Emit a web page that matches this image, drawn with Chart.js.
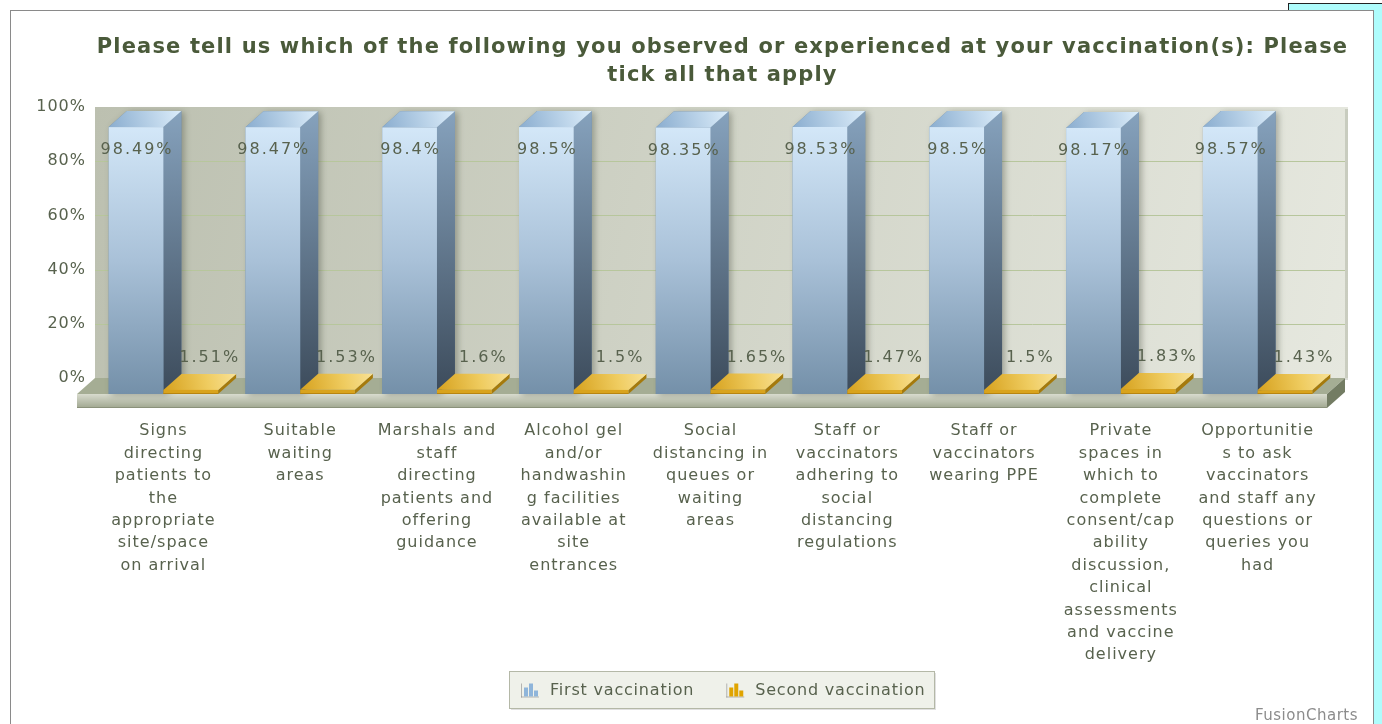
<!DOCTYPE html>
<html><head><meta charset="utf-8">
<script src="https://cdn.jsdelivr.net/npm/chart.js@4.4.1/dist/chart.umd.min.js"></script>
<style>
html,body{margin:0;padding:0;background:#fff;}
#wrap{position:relative;width:1382px;height:724px;overflow:hidden;}
#cyan{position:absolute;left:1288px;top:3px;width:200px;height:800px;background:#aefcfc;border-left:1px solid #222;border-top:1px solid #222;}
#frame{position:absolute;left:10px;top:10px;width:1362px;height:800px;border:1px solid #8a8a8a;background:#fff;}
canvas{position:absolute;left:0;top:0;}
</style></head>
<body><div id="wrap"><div id="cyan"></div><div id="frame"></div><canvas id="c" width="1382" height="724"></canvas></div>
<script>
const titleLines = ["Please tell us which of the following you observed or experienced at your vaccination(s): Please", "tick all that apply"];
const categories = [
  ["Signs","directing","patients to","the","appropriate","site/space","on arrival"],
  ["Suitable","waiting","areas"],
  ["Marshals and","staff","directing","patients and","offering","guidance"],
  ["Alcohol gel","and/or","handwashin","g facilities","available at","site","entrances"],
  ["Social","distancing in","queues or","waiting","areas"],
  ["Staff or","vaccinators","adhering to","social","distancing","regulations"],
  ["Staff or","vaccinators","wearing PPE"],
  ["Private","spaces in","which to","complete","consent/cap","ability","discussion,","clinical","assessments","and vaccine","delivery"],
  ["Opportunitie","s to ask","vaccinators","and staff any","questions or","queries you","had"]
];
const firstVaccination = [98.49, 98.47, 98.4, 98.5, 98.35, 98.53, 98.5, 98.17, 98.57];
const secondVaccination = [1.51, 1.53, 1.6, 1.5, 1.65, 1.47, 1.5, 1.83, 1.43];
const seriesNames = ["First vaccination", "Second vaccination"];
const yTicks = [0, 20, 40, 60, 80, 100];

const FONT = '"DejaVu Sans", Verdana, sans-serif';
const DX = 18, DY = 16, SLAB = 14;

function lin(ctx, x0, y0, x1, y1, stops) {
  const g = ctx.createLinearGradient(x0, y0, x1, y1);
  stops.forEach(s => g.addColorStop(s[0], s[1]));
  return g;
}
function poly(ctx, pts, fill) {
  ctx.beginPath();
  ctx.moveTo(pts[0][0], pts[0][1]);
  for (let i = 1; i < pts.length; i++) ctx.lineTo(pts[i][0], pts[i][1]);
  ctx.closePath();
  ctx.fillStyle = fill;
  ctx.fill();
}
function drawBox(ctx, bL, bR, bT, bB, d) {
  const fL = bL - DX, fR = bR - DX, fT = bT + DY, fB = bB + DY;
  const sil = [[fL, fT], [bL, bT], [bR, bT], [bR, bB], [fR, fB], [fL, fB]];
  if (d === 0) {
    ctx.save();
    ctx.shadowColor = 'rgba(50,55,40,0.35)';
    ctx.shadowBlur = 6; ctx.shadowOffsetX = 3; ctx.shadowOffsetY = 1;
    poly(ctx, sil, '#6f8aa3');
    ctx.restore();
    poly(ctx, [[fR, fT], [bR, bT], [bR, bB], [fR, fB]], lin(ctx, 0, bT, 0, fB, [[0, '#86a2bd'], [1, '#3c4b5b']]));
    poly(ctx, [[fL, fT], [bL, bT], [bR, bT], [fR, fT]], lin(ctx, fL, fT, bR, bT, [[0, '#8aadcf'], [1, '#dcedfa']]));
    ctx.fillStyle = lin(ctx, 0, fT, 0, fB, [[0, '#d3e7f8'], [0.5, '#a9c1d8'], [1, '#7490a9']]);
    ctx.fillRect(fL, fT, fR - fL, fB - fT);
  } else {
    poly(ctx, [[fR, fT], [bR, bT], [bR, bB], [fR, fB]], '#a57a0c');
    poly(ctx, [[fL, fT], [bL, bT], [bR, bT], [fR, fT]], lin(ctx, fL, fT, bR, bT, [[0, '#d6a11e'], [0.6, '#efcc60'], [1, '#f8e196']]));
    ctx.fillStyle = '#d9a31c';
    ctx.fillRect(fL, fT, fR - fL, fB - fT);
    ctx.fillStyle = '#b88510';
    ctx.fillRect(fL, fB - 1, fR - fL, 1);
  }
}
function icon(ctx, x, cy, color) {
  ctx.fillStyle = 'rgba(120,120,120,0.5)';
  ctx.fillRect(x, cy - 7, 1, 14);
  ctx.fillRect(x, cy + 6, 18, 1);
  ctx.fillStyle = color;
  ctx.fillRect(x + 3, cy - 3, 4, 9);
  ctx.fillRect(x + 8, cy - 7, 4, 13);
  ctx.fillRect(x + 13, cy, 4, 6);
}

const scene = {
  id: 'scene',
  beforeUpdate(chart) { chart.ctx.letterSpacing = '1px'; },
  beforeDraw(chart) {
    const ctx = chart.ctx, a = chart.chartArea;
    ctx.letterSpacing = '1px';
    ctx.save();
    ctx.font = 'bold 21px ' + FONT;
    ctx.letterSpacing = '1.15px';
    ctx.fillStyle = '#4a5a3a';
    ctx.textAlign = 'center';
    ctx.textBaseline = 'middle';
    const cx = (a.left - DX + a.right + 4) / 2 + 1;
    titleLines.forEach((t, k) => ctx.fillText(t, cx, 48 + k * 28));
    ctx.restore();
  },
  beforeDatasetsDraw(chart) {
    const ctx = chart.ctx, a = chart.chartArea, y = chart.scales.y;
    const wl = a.left - DX, wr = a.right + 4;
    const wt = y.getPixelForValue(100), wb = y.getPixelForValue(0);
    ctx.save();
    ctx.fillStyle = lin(ctx, wl, wt, wr, wb, [[0, '#bcc0b0'], [1, '#e6e8df']]);
    ctx.fillRect(wl, wt, wr - wl, wb - wt);
    ctx.fillStyle = 'rgba(150,155,135,0.35)';
    ctx.fillRect(wr - 3, wt + 2, 3, wb - wt);
    ctx.strokeStyle = '#b7c69c';
    ctx.lineWidth = 1;
    yTicks.forEach(v => {
      if (v === 0 || v === 100) return;
      const py = Math.round(y.getPixelForValue(v)) + 0.5;
      ctx.beginPath(); ctx.moveTo(wl, py); ctx.lineTo(wr - 3, py); ctx.stroke();
    });
    const br = a.right + 1, fl = wl - DX, fr = br - DX;
    poly(ctx, [[wl, wb], [br, wb], [fr, wb + DY], [fl, wb + DY]], '#a5ad94');
    ctx.fillStyle = lin(ctx, 0, wb + DY, 0, wb + DY + SLAB, [[0, '#d8dbce'], [1, '#a0a790']]);
    ctx.fillRect(fl, wb + DY, fr - fl, SLAB);
    ctx.fillStyle = '#8a917a';
    ctx.fillRect(fl, wb + DY + SLAB - 1, fr - fl, 1);
    poly(ctx, [[fr, wb + DY], [br, wb], [br, wb + SLAB], [fr, wb + DY + SLAB]], '#737c63');
    ctx.restore();
  },
  afterDatasetsDraw(chart) {
    const ctx = chart.ctx;
    const metas = [chart.getDatasetMeta(0), chart.getDatasetMeta(1)];
    const series = [firstVaccination, secondVaccination];
    ctx.save();
    for (let i = 0; i < categories.length; i++) {
      metas.forEach((m, d) => {
        const p = m.data[i].getProps(['x', 'y', 'base', 'width'], true);
        drawBox(ctx, p.x - p.width / 2, p.x + p.width / 2, p.y, p.base, d);
      });
    }
    ctx.font = '16px ' + FONT;
    ctx.letterSpacing = '2px';
    ctx.fillStyle = '#58624e';
    ctx.textAlign = 'center';
    ctx.textBaseline = 'middle';
    for (let i = 0; i < categories.length; i++) {
      metas.forEach((m, d) => {
        const p = m.data[i].getProps(['x', 'y', 'base', 'width'], true);
        const txt = series[d][i] + '%';
        if (d === 0) ctx.fillText(txt, p.x - DX + 1, p.y + DY + 23);
        else ctx.fillText(txt, p.x + 1, p.y - 16);
      });
    }
    ctx.restore();
  },
  afterDraw(chart) {
    const ctx = chart.ctx, a = chart.chartArea;
    ctx.save();
    ctx.font = '16px ' + FONT;
    ctx.letterSpacing = '0.8px';
    const w0 = ctx.measureText(seriesNames[0]).width, w1 = ctx.measureText(seriesNames[1]).width;
    const padL = 12, ic = 18, gap = 11, itemGap = 32, padR = 8;
    const W = Math.round(padL + ic + gap + w0 + itemGap + ic + gap + w1 + padR);
    const cx = (a.left - DX + a.right + 4) / 2;
    const bx = Math.round(cx - W / 2), by = chart.height - 53, bh = 37;
    ctx.fillStyle = 'rgba(0,0,0,0.12)';
    ctx.fillRect(bx + 2, by + 2, W, bh);
    ctx.fillStyle = '#eff1ea';
    ctx.fillRect(bx, by, W, bh);
    ctx.strokeStyle = '#b4b8a7';
    ctx.lineWidth = 1;
    ctx.strokeRect(bx + 0.5, by + 0.5, W, bh);
    const cy = by + bh / 2 + 1;
    let x = bx + padL;
    icon(ctx, x, cy, '#8fb5da');
    x += ic + gap;
    ctx.fillStyle = '#58624e';
    ctx.textAlign = 'left'; ctx.textBaseline = 'middle';
    ctx.fillText(seriesNames[0], x, cy);
    x += w0 + itemGap;
    icon(ctx, x, cy, '#e0a400');
    x += ic + gap;
    ctx.fillStyle = '#58624e';
    ctx.fillText(seriesNames[1], x, cy);
    ctx.font = '15px ' + FONT;
    ctx.letterSpacing = '0.5px';
    ctx.fillStyle = '#8c8c8c';
    ctx.textAlign = 'right';
    ctx.fillText('FusionCharts', 1358, 716);
    ctx.restore();
  }
};

new Chart(document.getElementById('c'), {
  type: 'bar',
  data: {
    labels: categories,
    datasets: [
      { label: seriesNames[0], data: firstVaccination, backgroundColor: 'rgba(0,0,0,0)', borderWidth: 0, categoryPercentage: 0.8, barPercentage: 1 },
      { label: seriesNames[1], data: secondVaccination, backgroundColor: 'rgba(0,0,0,0)', borderWidth: 0, categoryPercentage: 0.8, barPercentage: 1 }
    ]
  },
  options: {
    responsive: false,
    animation: false,
    devicePixelRatio: 1,
    layout: { padding: { left: 10, right: 38, top: 107, bottom: 0 } },
    plugins: {
      legend: { display: false },
      tooltip: { enabled: false },
      title: { display: false }
    },
    scales: {
      x: {
        grid: { display: false, drawTicks: false },
        border: { display: false },
        ticks: { color: '#58624e', font: { family: FONT, size: 16, lineHeight: 1.4 }, padding: 42, labelOffset: -18, maxRotation: 0, minRotation: 0, autoSkip: false },
        afterFit(s) { s.height = 346; }
      },
      y: {
        min: 0, max: 100,
        grid: { display: false, drawTicks: false },
        border: { display: false },
        ticks: { stepSize: 20, callback: v => v + '%', color: '#58624e', font: { family: FONT, size: 16 }, padding: 27 },
        afterFit(s) { s.width = 103; }
      }
    }
  },
  plugins: [scene]
});
</script>
</body></html>
